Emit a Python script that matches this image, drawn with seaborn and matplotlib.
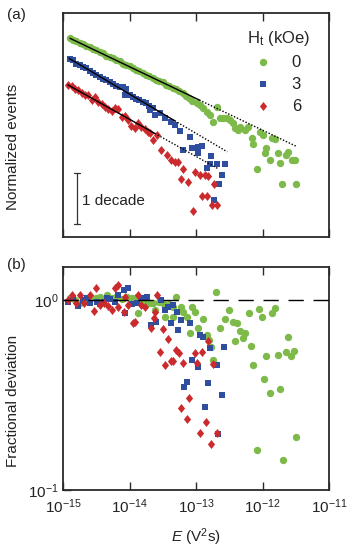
import numpy as np
import matplotlib
matplotlib.use("Agg")
import matplotlib.pyplot as plt
import seaborn as sns

sns.set_style("ticks")
plt.rcParams['font.family'] = ['Liberation Sans', 'DejaVu Sans']
plt.rcParams['mathtext.fontset'] = 'custom'
plt.rcParams['mathtext.rm'] = 'Liberation Sans'
plt.rcParams['mathtext.it'] = 'Liberation Sans:italic'
plt.rcParams['mathtext.bf'] = 'Liberation Sans:bold'

# ---------------- data (log10 values) ----------------
# panel (a): normalized events
green_a_logE = [-14.90, -14.85, -14.80, -14.75, -14.70, -14.65, -14.60, -14.55, -14.50, -14.45,
                -14.40, -14.35, -14.30, -14.25, -14.20, -14.15, -14.10, -14.05, -14.00, -13.95,
                -13.90, -13.85, -13.80, -13.75, -13.70, -13.65, -13.60, -13.55, -13.50, -13.45,
                -13.40, -13.35, -13.30, -13.25, -13.20, -13.15, -13.10,
                -13.06, -12.99, -12.94, -12.895, -12.84, -12.79, -12.74, -12.69, -12.64, -12.59,
                -12.54, -12.49, -12.44, -12.41, -12.37, -12.34, -12.26, -12.22, -12.16, -12.14,
                -12.09, -12.04, -11.99, -11.96, -11.94, -11.89, -11.86, -11.81, -11.77, -11.74,
                -11.70, -11.64, -11.62, -11.56, -11.51, -11.49]
green_a_logN = [-0.49, -0.52, -0.55, -0.58, -0.60, -0.64, -0.67, -0.70, -0.73, -0.76,
                -0.79, -0.84, -0.86, -0.89, -0.93, -0.95, -0.99, -1.01, -1.04, -1.07,
                -1.12, -1.14, -1.17, -1.22, -1.24, -1.27, -1.31, -1.34, -1.36, -1.41,
                -1.44, -1.47, -1.49, -1.52, -1.57, -1.62, -1.66,
                -1.73, -1.76, -1.80, -1.86, -1.94, -2.00, -2.14, -1.84, -2.06, -2.05,
                -2.06, -2.10, -2.15, -2.25, -2.29, -2.23, -2.29, -2.23, -2.45, -2.57,
                -3.06, -2.33, -2.39, -2.75, -2.65, -2.88, -2.45, -2.47, -2.75, -2.94,
                -3.35, -2.78, -2.73, -2.88, -2.88, -3.35]

blue_a_logE = [-14.90, -14.85, -14.80, -14.75, -14.70, -14.65, -14.60, -14.55, -14.50, -14.45,
               -14.40, -14.35, -14.30, -14.25, -14.20, -14.15, -14.10, -14.05, -14.07, -14.00,
               -13.95, -13.90, -13.85, -13.80, -13.75, -13.70, -13.65,
               -13.69, -13.62, -13.54, -13.47, -13.37, -13.32, -13.24, -13.09, -13.19, -13.065,
               -12.97, -12.91, -12.97, -12.77, -12.79, -12.69, -12.56, -12.84, -12.61, -12.65,
               -12.73]
blue_a_logN = [-0.90, -0.93, -0.99, -1.01, -1.05, -1.08, -1.14, -1.17, -1.21, -1.26,
               -1.29, -1.31, -1.35, -1.40, -1.44, -1.45, -1.46, -1.49, -1.60, -1.61,
               -1.64, -1.68, -1.70, -1.74, -1.76, -1.82, -1.86,
               -1.90, -2.00, -1.96, -2.06, -2.13, -2.20, -2.31, -2.43, -2.69, -2.65,
               -2.62, -2.61, -2.75, -2.81, -2.95, -2.95, -2.95, -3.04, -3.18, -3.35,
               -3.67]

red_a_logE = [-14.92, -14.87, -14.82, -14.77, -14.72, -14.67, -14.62, -14.57, -14.52, -14.47,
              -14.42, -14.37, -14.32, -14.27, -14.22, -14.17, -14.12, -14.07, -14.02, -13.97,
              -13.92, -13.87, -13.82, -13.77, -13.72,
              -13.69, -13.64, -13.59, -13.52, -13.44, -13.37, -13.32, -13.27, -13.19, -13.22,
              -13.12, -13.02, -12.94, -12.86, -12.815, -12.73, -12.91, -12.84, -12.76, -12.69,
              -13.05]
red_a_logN = [-1.41, -1.43, -1.49, -1.51, -1.56, -1.60, -1.61, -1.70, -1.65, -1.75,
              -1.79, -1.84, -1.88, -1.93, -1.86, -1.88, -2.04, -2.02, -2.09, -2.22,
              -2.25, -2.15, -2.24, -2.28, -2.33,
              -2.36, -2.49, -2.39, -2.69, -2.78, -2.88, -2.92, -2.92, -3.05, -3.26,
              -3.31, -3.11, -3.18, -3.18, -3.20, -3.36, -3.59, -3.59, -3.76, -3.76,
              -3.88]

# power-law fits: start / end of the line (log10 E, log10 N) and end of the solid part
green_fit_logE = [-14.895, -11.48]
green_fit_logN = [-0.496, -2.62]
green_solid_end = -12.95
blue_fit_logE = [-14.91, -12.53]
blue_fit_logN = [-0.888, -2.72]
blue_solid_end = -13.32
red_fit_logE = [-14.925, -12.67]
red_fit_logN = [-1.41, -3.05]
red_solid_end = -13.62

# panel (b): fractional deviation (log10)
green_b_logE = [-14.90, -14.82, -14.74, -14.66, -14.58, -14.50, -14.44, -14.34, -14.27, -14.19,
                -14.12, -14.04, -13.96, -13.89, -13.87, -13.80, -13.74, -13.69, -13.64, -13.62,
                -13.56, -13.49, -13.47, -13.40, -13.34, -13.34, -13.30, -13.22, -13.19, -13.14,
                -13.09, -13.06, -13.02, -12.97, -12.90, -12.84, -12.81, -12.77, -12.74, -12.70,
                -12.64, -12.56, -12.50, -12.44, -12.41, -12.38, -12.34, -12.29, -12.26, -12.21,
                -12.17, -12.14, -12.09, -12.05, -12.01, -11.97, -11.94, -11.89, -11.85, -11.81,
                -11.77, -11.74, -11.69, -11.65, -11.61, -11.57, -11.53, -11.49]
green_b_logD = [0.009, 0.00, -0.017, 0.005, 0.010, 0.012, 0.017, 0.026, 0.010, 0.021,
                0.005, 0.017, 0.010, 0.017, -0.067, 0.00, -0.017, -0.018, -0.017, -0.053,
                -0.010, -0.017, -0.088, -0.020, -0.091, -0.039, 0.018, -0.035, -0.061, -0.088,
                -0.172, -0.035, -0.061, -0.149, -0.100, -0.184, -0.211, -0.246, -0.316, 0.044,
                -0.149, -0.100, -0.053, -0.114, -0.214, -0.123, -0.161, -0.198, -0.172, -0.070,
                -0.240, -0.342, -0.791, -0.049, -0.091, -0.418, -0.295, -0.491, -0.070, -0.044,
                -0.291, -0.470, -0.844, -0.275, -0.193, -0.293, -0.267, -0.719]

blue_b_logE = [-14.92, -14.85, -14.77, -14.70, -14.64, -14.59, -14.49, -14.44, -14.39, -14.34,
               -14.29, -14.22, -14.17, -14.09, -14.02, -14.07, -13.96, -13.89, -13.82, -13.77,
               -13.74, -13.67, -13.60, -13.52, -13.47, -13.42, -13.37, -13.34, -13.29, -13.27,
               -13.22, -13.18, -13.14, -13.09, -13.065, -12.97, -12.94, -12.89, -12.86, -12.82,
               -12.79, -12.69, -12.665, -12.61, -12.58]
blue_b_logD = [-0.009, 0.009, -0.032, 0.00, 0.010, -0.017, -0.009, -0.020, -0.009, 0.010,
               0.004, -0.009, 0.026, 0.053, 0.061, -0.070, -0.020, -0.017, 0.009, 0.009,
               0.018, -0.132, -0.117, 0.00, -0.053, -0.035, -0.123, -0.026, -0.061, -0.158,
               -0.105, -0.459, -0.430, -0.123, -0.316, -0.351, -0.184, -0.193, -0.561, -0.435,
               -0.254, -0.342, -0.707, -0.500, -0.249]

red_b_logE = [-14.92, -14.87, -14.81, -14.74, -14.69, -14.59, -14.54, -14.50, -14.44, -14.39,
              -14.32, -14.27, -14.22, -14.17, -14.17, -14.09, -14.07, -14.02, -13.94, -13.92,
              -13.87, -13.82, -13.77, -13.67, -13.63, -13.62, -13.59, -13.54, -13.50, -13.47,
              -13.42, -13.38, -13.35, -13.30, -13.25, -13.19, -13.22, -13.14, -13.10, -13.015,
              -12.98, -12.94, -12.905, -12.855, -12.815, -12.78, -12.74, -12.69]
red_b_logD = [0.00, 0.026, -0.015, 0.026, -0.017, 0.026, -0.056, 0.061, -0.026, -0.017,
              -0.032, -0.053, 0.061, 0.079, -0.035, -0.061, 0.017, -0.026, -0.123, -0.114,
              0.026, -0.026, -0.035, -0.149, -0.096, -0.061, 0.026, -0.272, -0.154, -0.342,
              -0.207, -0.319, -0.319, -0.263, -0.277, -0.333, -0.570, -0.628, -0.518, -0.281,
              -0.333, -0.702, -0.272, -0.644, -0.216, -0.758, -0.337, -0.702]

series_labels = ["0", "3", "6"]
legend_title = r"H$_\mathrm{t}$ (kOe)"
decade_label = "1 decade"

# ---------------- styling ----------------
GREEN = "#7dba4a"
BLUE = "#2f4f9e"
RED = "#cc2b2e"
FRAME = "#2a2a2a"
diamond = [(0, 1), (0.8, 0), (0, -1), (-0.8, 0), (0, 1)]

fig = plt.figure(figsize=(3.54, 5.49), dpi=100)
W, H = 354.0, 549.0
ax1 = fig.add_axes([63 / W, 1 - 237 / H, 266 / W, 224 / H])
ax2 = fig.add_axes([63 / W, 1 - 490 / H, 266 / W, 223 / H])

def pw(v):
    return np.power(10.0, np.asarray(v, dtype=float))

S_G, S_B, S_R = 28, 23, 42

# ---- panel (a) ----
sns.scatterplot(x=pw(green_a_logE), y=pw(green_a_logN), color=GREEN, marker="o", s=S_G,
                linewidth=0, ax=ax1, label=series_labels[0], zorder=2)
sns.scatterplot(x=pw(blue_a_logE), y=pw(blue_a_logN), color=BLUE, marker="s", s=S_B,
                linewidth=0, ax=ax1, label=series_labels[1], zorder=2)
sns.scatterplot(x=pw(red_a_logE), y=pw(red_a_logN), color=RED, marker=diamond, s=S_R,
                linewidth=0, ax=ax1, label=series_labels[2], zorder=2)

for fe, fn, se in [(green_fit_logE, green_fit_logN, green_solid_end),
                   (blue_fit_logE, blue_fit_logN, blue_solid_end),
                   (red_fit_logE, red_fit_logN, red_solid_end)]:
    slope = (fn[1] - fn[0]) / (fe[1] - fe[0])
    ys = fn[0] + slope * (se - fe[0])
    ax1.plot(pw([fe[0], se]), pw([fn[0], ys]), color="black", lw=1.0, zorder=3)
    ax1.plot(pw([se, fe[1]]), pw([ys, fn[1]]), color="black", lw=1.0,
             linestyle=(0, (1, 1.3)), zorder=3)

# one-decade scale bar
bar_x = 10 ** -14.79
ax1.plot([bar_x, bar_x], [10 ** -3.137, 10 ** -4.137], color="#333333", lw=0.9)
for yy in (10 ** -3.137, 10 ** -4.137):
    ax1.plot([10 ** -14.835, 10 ** -14.745], [yy, yy], color="#333333", lw=0.9)
ax1.text(10 ** -14.72, 10 ** -3.69, decade_label, fontsize=11, va="center", ha="left",
         color="#222222")

ax1.set_xscale("log")
ax1.set_yscale("log")
ax1.set_xlim(1e-15, 1e-11)
ax1.set_ylim(10 ** -4.39, 10 ** 0)
ax1.set_xticks([1e-15, 1e-14, 1e-13, 1e-12, 1e-11])
ax1.xaxis.set_minor_locator(matplotlib.ticker.NullLocator())
ax1.yaxis.set_major_locator(matplotlib.ticker.NullLocator())
ax1.yaxis.set_minor_locator(matplotlib.ticker.NullLocator())
ax1.tick_params(axis="x", which="major", direction="in", top=True, bottom=True,
                labelbottom=False, length=6, width=1.0, color=FRAME)
ax1.set_xlabel("")
ax1.set_ylabel("Normalized events", fontsize=11, color="#222222")
ax1.yaxis.set_label_coords(-0.162, 0.40)

leg = ax1.legend(title=legend_title, loc="upper left", bbox_to_anchor=(0.69, 0.93),
                 frameon=False, fontsize=12, title_fontsize=12, handlelength=1.0,
                 handletextpad=1.2, labelspacing=0.42, borderpad=0, borderaxespad=0,
                 markerscale=1.0)
for t in leg.get_texts():
    t.set_color("#222222")

# ---- panel (b) ----
sns.scatterplot(x=pw(green_b_logE), y=pw(green_b_logD), color=GREEN, marker="o", s=S_G,
                linewidth=0, ax=ax2, zorder=2)
sns.scatterplot(x=pw(blue_b_logE), y=pw(blue_b_logD), color=BLUE, marker="s", s=S_B,
                linewidth=0, ax=ax2, zorder=2)
sns.scatterplot(x=pw(red_b_logE), y=pw(red_b_logD), color=RED, marker=diamond, s=S_R,
                linewidth=0, ax=ax2, zorder=2)
ax2.axhline(1.0, color="black", lw=1.0, linestyle=(0, (11, 7)), zorder=3)

ax2.set_xscale("log")
ax2.set_yscale("log")
ax2.set_xlim(1e-15, 1e-11)
ax2.set_ylim(0.1, 10 ** 0.174)
ax2.set_xticks([1e-15, 1e-14, 1e-13, 1e-12, 1e-11])
ax2.set_yticks([0.1, 1.0])
ax2.xaxis.set_minor_locator(matplotlib.ticker.NullLocator())
ax2.yaxis.set_minor_locator(matplotlib.ticker.NullLocator())
ax2.xaxis.set_major_formatter(matplotlib.ticker.LogFormatterSciNotation())
ax2.yaxis.set_major_formatter(matplotlib.ticker.LogFormatterSciNotation())
ax2.tick_params(axis="x", which="major", direction="in", top=True, bottom=True,
                length=6, width=1.0, color=FRAME, labelsize=11, pad=5, labelcolor="#222222")
ax2.tick_params(axis="y", which="major", direction="in", left=True, right=False,
                length=6, width=1.0, color=FRAME, labelsize=11, pad=3, labelcolor="#222222")
ax2.set_xlabel(r"$E$ (V$^2$s)", fontsize=11, color="#222222", labelpad=8)
ax2.set_ylabel("Fractional deviation", fontsize=11, color="#222222")
ax2.yaxis.set_label_coords(-0.162, 0.40)

for ax in (ax1, ax2):
    for sp in ax.spines.values():
        sp.set_visible(True)
        sp.set_linewidth(1.3)
        sp.set_color(FRAME)

fig.text(7 / W, 1 - 15 / H, "(a)", fontsize=11, va="center", ha="left", color="#222222")
fig.text(7 / W, 1 - 265 / H, "(b)", fontsize=11, va="center", ha="left", color="#222222")

fig.savefig("out.png", dpi=100)
